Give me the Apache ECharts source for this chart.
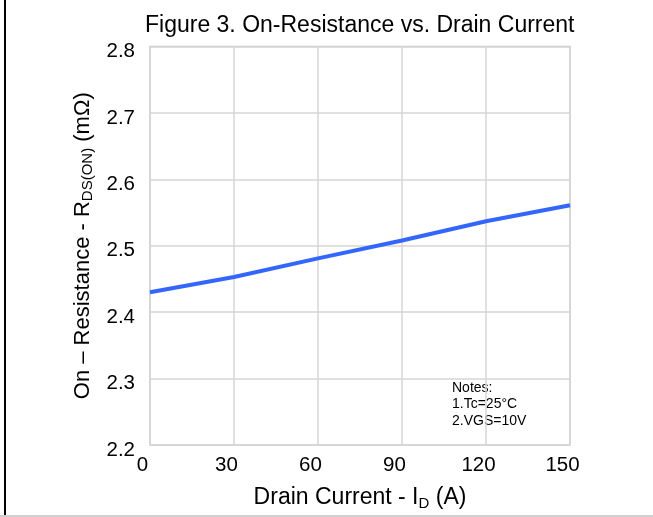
<!DOCTYPE html>
<html>
<head>
<meta charset="utf-8">
<script src="https://cdn.jsdelivr.net/npm/echarts@6/dist/echarts.min.js"></script>
<style>
  html, body { margin: 0; padding: 0; background: #fff; }
  #chart { width: 653px; height: 517px; }
</style>
</head>
<body>
<div id="chart"></div>
<script>
// Drain current (A) and on-resistance (mΩ)
const drainCurrent = [0, 30, 60, 90, 120, 150];
const onResistance = [2.430, 2.453, 2.481, 2.508, 2.537, 2.561];
const yTicks = [2.2, 2.3, 2.4, 2.5, 2.6, 2.7, 2.8];
const xTicks = [0, 30, 60, 90, 120, 150];
const notes = ['Notes:', '1.Tc=25°C', '2.VGS=10V'];

const FONT = '"Liberation Sans", Arial, sans-serif';
const chart = echarts.init(document.getElementById('chart'), null, { renderer: 'canvas' });

chart.setOption({
  backgroundColor: '#fff',
  animation: false,
  title: {
    text: 'Figure 3. On-Resistance vs. Drain Current',
    left: 145,
    top: 14,
    padding: 0,
    textStyle: { fontFamily: FONT, fontSize: 23, fontWeight: 'normal', color: '#000' }
  },
  grid: {
    left: 150, right: 83, top: 46.5, bottom: 72,
    show: true, borderColor: '#c8c8c8', borderWidth: 1.5
  },
  xAxis: {
    type: 'value',
    min: xTicks[0], max: xTicks[xTicks.length - 1], interval: 30,
    name: 'Drain Current - I{sub|D} (A)',
    nameLocation: 'middle',
    nameGap: 40,
    nameTextStyle: {
      fontFamily: FONT, fontSize: 23, color: '#000',
      rich: { sub: { fontFamily: FONT, fontSize: 15, color: '#000', verticalAlign: 'bottom', padding: [11, 0, 0, 0] } }
    },
    axisLine: { show: false },
    axisTick: { show: false },
    axisLabel: {
      fontFamily: FONT, fontSize: 20.5, color: '#000', margin: 10,
      padding: [0, 15, 0, 0]
    },
    splitLine: { show: true, lineStyle: { color: '#d6d6d6', width: 1.5 } }
  },
  yAxis: {
    type: 'value',
    min: yTicks[0], max: yTicks[yTicks.length - 1], interval: 0.1,
    name: 'On – Resistance - R{sub|DS(ON)} (mΩ)',
    nameLocation: 'middle',
    nameGap: 55,
    nameTextStyle: {
      fontFamily: FONT, fontSize: 22, color: '#000',
      rich: { sub: { fontFamily: FONT, fontSize: 15, color: '#000', verticalAlign: 'bottom', padding: [10, 0, 0, 0] } }
    },
    axisLine: { show: false },
    axisTick: { show: false },
    axisLabel: {
      margin: 15,
      formatter: v => '{v|' + v.toFixed(1) + '}',
      rich: { v: { fontFamily: FONT, fontSize: 20.5, color: '#000', padding: [10, 0, 0, 0] } }
    },
    splitLine: { show: true, lineStyle: { color: '#d6d6d6', width: 1.5 } }
  },
  series: [{
    type: 'line',
    data: drainCurrent.map((x, i) => [x, onResistance[i]]),
    smooth: false,
    showSymbol: false,
    lineStyle: { color: '#3366ff', width: 4 }
  }],
  graphic: [
    { type: 'line', shape: { x1: 5, y1: 0, x2: 5, y2: 517 }, style: { stroke: '#000', lineWidth: 2 } },
    { type: 'line', shape: { x1: 0, y1: 516, x2: 653, y2: 516 }, style: { stroke: '#d0d0d0', lineWidth: 2 } },
    {
      type: 'text', left: 452, top: 379.5,
      style: {
        text: notes.join('\n'), fontFamily: FONT, fontSize: 14, lineHeight: 16.7, fill: '#000'
      }
    }
  ]
});
</script>
</body>
</html>
